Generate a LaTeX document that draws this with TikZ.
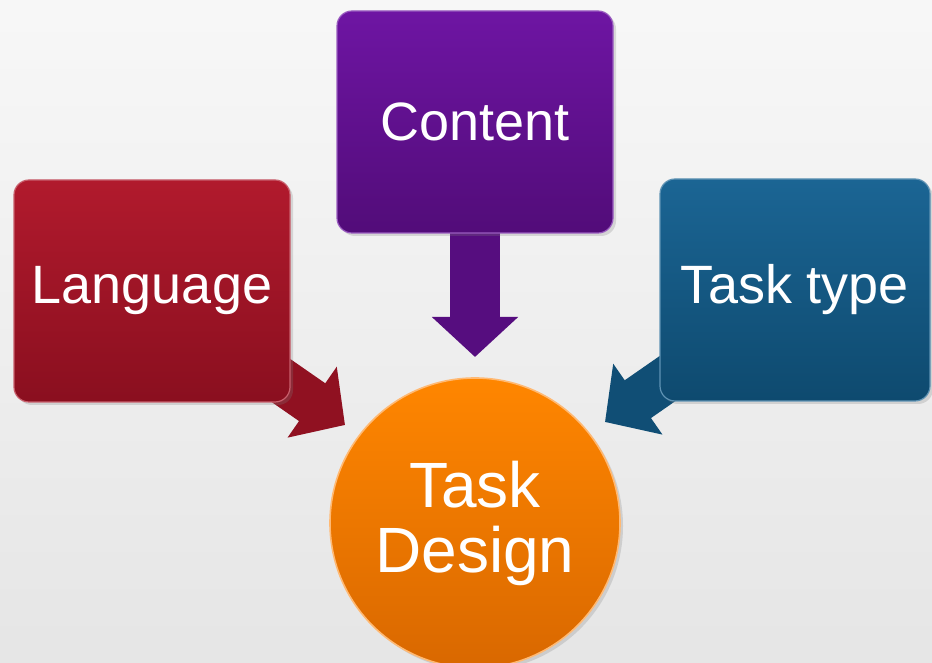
\documentclass[tikz,border=0pt]{standalone}
\usepackage{fontspec}
\setmainfont{Liberation Sans}
\usepackage{tikz}
\usetikzlibrary{arrows.meta,backgrounds,shadows}
\usepackage{xcolor}

\definecolor{langtop}{HTML}{B11A2D}
\definecolor{langbot}{HTML}{8A0F1F}
\definecolor{conttop}{HTML}{6E15A3}
\definecolor{contbot}{HTML}{520C79}
\definecolor{typetop}{HTML}{1B6594}
\definecolor{typebot}{HTML}{0E4A6F}
\definecolor{circtop}{HTML}{FF8600}
\definecolor{circbot}{HTML}{D96800}

\tikzset{
  box/.style={rectangle, rounded corners=7.5pt, minimum width=138pt, minimum height=111pt,
    inner sep=0pt, text=white, font=\fontsize{27}{30}\selectfont,
    drop shadow={shadow xshift=1.5pt, shadow yshift=-1.5pt, opacity=0.25}},
  blockarrow/.style={line width=23pt, -{Triangle[width=42pt,length=20pt]}},
}

\begin{document}
\begin{tikzpicture}[x=0.5pt,y=0.5pt]
\useasboundingbox (0,0) rectangle (932,663);
\clip (0,0) rectangle (932,663);

% the three boxes
\node[box, top color=langtop, bottom color=langbot, draw=langtop!70!white, line width=0.6pt] (lang) at (152,372) {Language};
\node[box, top color=conttop, bottom color=contbot, draw=conttop!70!white, line width=0.6pt] (cont) at (475,541) {Content};
\node[box, top color=typetop, bottom color=typebot, draw=typetop!70!white, line width=0.6pt,
  minimum width=135pt] (type) at (795,373) {Task type};

% the circle in the middle
\node[circle, minimum size=145pt, inner sep=0pt, top color=circtop, bottom color=circbot,
  draw=orange!55!white, line width=0.8pt, text=white, align=center,
  font=\fontsize{32}{32.5}\selectfont,
  drop shadow={shadow xshift=1.5pt, shadow yshift=-1.5pt, opacity=0.25}] (task) at (475,140) {Task\\Design};

\coordinate (langtip) at (345,238);
\coordinate (conttip) at (475,306);
\coordinate (typetip) at (605,241);

\begin{scope}[on background layer]
\shade[top color=white!97!black, bottom color=white!90!black] (0,0) rectangle (932,663);
\draw[blockarrow, langbot!85!langtop] (lang.center) -- (langtip);
\draw[blockarrow, contbot!85!conttop, line width=25pt] (cont.center) -- (conttip);
\draw[blockarrow, typebot!85!typetop] (type.center) -- (typetip);
\end{scope}
\end{tikzpicture}
\end{document}
